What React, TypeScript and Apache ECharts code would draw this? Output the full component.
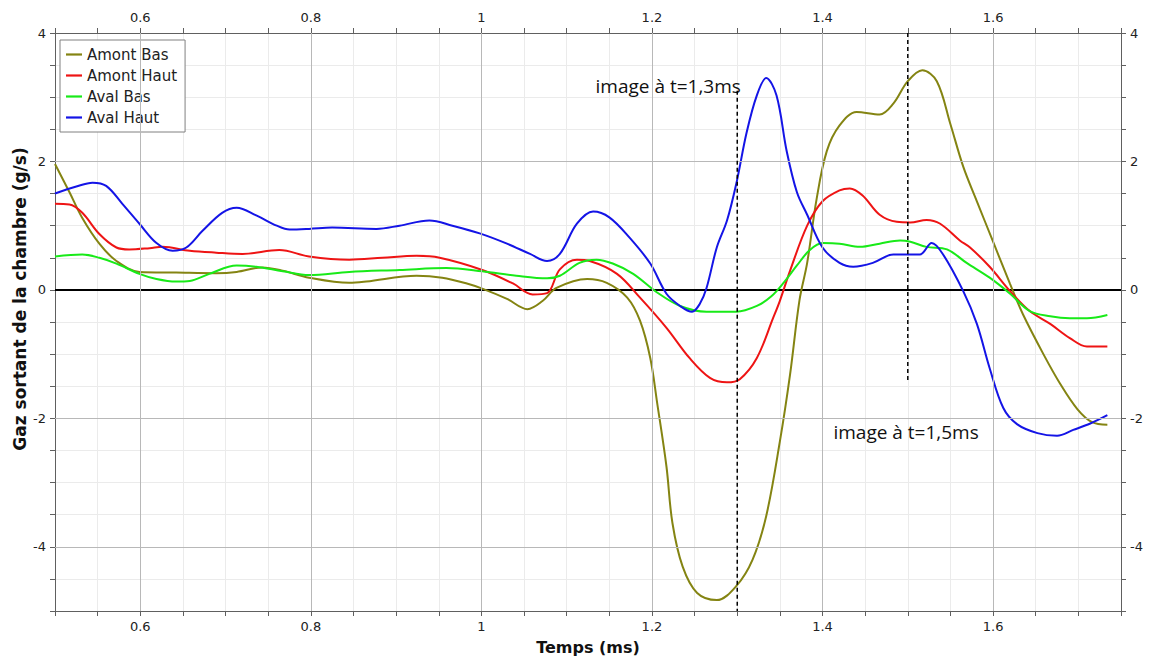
import { useEffect, useRef } from "react";
import * as echarts from "echarts";

const X_MIN = 0.5;
const X_MAX = 1.75;
const Y_MIN = -5;
const Y_MAX = 4;

const xLabelTicks = [0.6, 0.8, 1, 1.2, 1.4, 1.6];
const yLabelTicks = [-4, -2, 0, 2, 4];
const xMajorGrid = [0.6, 0.8, 1, 1.2, 1.4, 1.6];
const yMajorGrid = [-4, -2, 2];

const seriesNames = ["Amont Bas", "Amont Haut", "Aval Bas", "Aval Haut"];
const seriesColors = ["#848412", "#ee1414", "#18ea18", "#1414e6"];

const amontBas = [
  [0.5, 1.96], [0.517, 1.52], [0.532, 1.12], [0.552, 0.72], [0.572, 0.45], [0.599, 0.28],
  [0.642, 0.27], [0.689, 0.26], [0.713, 0.28], [0.743, 0.35], [0.767, 0.3], [0.798, 0.19],
  [0.845, 0.11], [0.865, 0.13], [0.924, 0.22], [0.954, 0.19], [0.983, 0.1], [1.001, 0.02],
  [1.03, -0.14], [1.054, -0.3], [1.072, -0.17], [1.088, 0.03], [1.124, 0.17], [1.147, 0.11],
  [1.171, -0.12], [1.186, -0.48], [1.198, -1.06], [1.206, -1.75], [1.217, -2.75], [1.224, -3.63],
  [1.236, -4.31], [1.253, -4.72], [1.276, -4.83], [1.299, -4.61], [1.318, -4.2], [1.334, -3.52],
  [1.35, -2.36], [1.362, -1.31], [1.373, -0.16], [1.382, 0.42], [1.393, 1.41], [1.405, 2.16],
  [1.42, 2.56], [1.44, 2.77], [1.467, 2.73], [1.483, 2.9], [1.5, 3.25], [1.517, 3.42],
  [1.534, 3.25], [1.55, 2.58], [1.565, 1.92], [1.581, 1.38], [1.6, 0.75], [1.62, 0.09],
  [1.635, -0.38], [1.659, -1.0], [1.679, -1.47], [1.699, -1.86], [1.716, -2.06], [1.734, -2.1],
];

const amontHaut = [
  [0.5, 1.34], [0.517, 1.33], [0.532, 1.2], [0.552, 0.87], [0.572, 0.66], [0.587, 0.63],
  [0.611, 0.65], [0.626, 0.67], [0.658, 0.61], [0.689, 0.58], [0.72, 0.56], [0.763, 0.62],
  [0.798, 0.52], [0.845, 0.47], [0.884, 0.5], [0.924, 0.53], [0.951, 0.5], [1.001, 0.31],
  [1.037, 0.1], [1.06, -0.07], [1.077, -0.05], [1.092, 0.32], [1.112, 0.47], [1.127, 0.45],
  [1.159, 0.25], [1.186, -0.12], [1.217, -0.59], [1.244, -1.06], [1.268, -1.37], [1.288, -1.44],
  [1.303, -1.39], [1.323, -1.06], [1.342, -0.44], [1.35, -0.17], [1.362, 0.3], [1.382, 1.0],
  [1.4, 1.38], [1.42, 1.55], [1.432, 1.58], [1.447, 1.47], [1.467, 1.17], [1.487, 1.06],
  [1.503, 1.05], [1.522, 1.09], [1.538, 1.03], [1.561, 0.77], [1.573, 0.66], [1.596, 0.36],
  [1.62, -0.02], [1.643, -0.33], [1.667, -0.53], [1.69, -0.75], [1.71, -0.88], [1.734, -0.88],
];

const avalBas = [
  [0.5, 0.52], [0.532, 0.55], [0.552, 0.5], [0.572, 0.41], [0.599, 0.25], [0.619, 0.17],
  [0.642, 0.13], [0.658, 0.14], [0.681, 0.25], [0.713, 0.38], [0.736, 0.36], [0.767, 0.29],
  [0.798, 0.23], [0.845, 0.28], [0.904, 0.31], [0.959, 0.34], [1.001, 0.29], [1.041, 0.22],
  [1.077, 0.18], [1.092, 0.22], [1.115, 0.42], [1.135, 0.47], [1.154, 0.41], [1.178, 0.25],
  [1.206, -0.04], [1.233, -0.25], [1.264, -0.34], [1.299, -0.34], [1.323, -0.25], [1.34, -0.1],
  [1.355, 0.12], [1.37, 0.38], [1.385, 0.62], [1.4, 0.73], [1.42, 0.72], [1.444, 0.67],
  [1.467, 0.72], [1.491, 0.77], [1.503, 0.75], [1.522, 0.67], [1.546, 0.63], [1.569, 0.42],
  [1.596, 0.19], [1.62, -0.06], [1.643, -0.33], [1.667, -0.41], [1.69, -0.44], [1.71, -0.44],
  [1.734, -0.39],
];

const avalHaut = [
  [0.5, 1.5], [0.525, 1.61], [0.544, 1.67], [0.56, 1.62], [0.579, 1.34], [0.599, 1.03],
  [0.619, 0.73], [0.638, 0.61], [0.654, 0.66], [0.673, 0.92], [0.696, 1.2], [0.713, 1.28],
  [0.736, 1.16], [0.76, 1.0], [0.775, 0.94], [0.798, 0.95], [0.825, 0.97], [0.877, 0.95],
  [0.904, 1.0], [0.939, 1.08], [0.966, 1.0], [0.998, 0.88], [1.03, 0.72], [1.057, 0.56],
  [1.077, 0.45], [1.092, 0.56], [1.112, 1.03], [1.131, 1.22], [1.15, 1.13], [1.174, 0.81],
  [1.198, 0.41], [1.217, -0.06], [1.233, -0.25], [1.247, -0.34], [1.256, -0.22], [1.264, 0.03],
  [1.276, 0.66], [1.288, 1.08], [1.299, 1.66], [1.311, 2.45], [1.323, 3.03], [1.334, 3.3],
  [1.346, 3.03], [1.358, 2.16], [1.37, 1.52], [1.382, 1.17], [1.4, 0.66], [1.42, 0.42],
  [1.436, 0.36], [1.459, 0.42], [1.483, 0.55], [1.514, 0.55], [1.528, 0.73], [1.541, 0.56],
  [1.565, -0.02], [1.581, -0.53], [1.596, -1.22], [1.612, -1.84], [1.628, -2.09], [1.652, -2.23],
  [1.675, -2.27], [1.694, -2.18], [1.714, -2.08], [1.734, -1.95],
];

const seriesData = [amontBas, amontHaut, avalBas, avalHaut];

const marker13 = [[1.3, 3.1], [1.3, -5]];
const marker15 = [[1.5, 4], [1.5, -1.42]];
const annotation13 = { text: "image à t=1,3ms", coord: [1.219, 3.17] };
const annotation15 = { text: "image à t=1,5ms", coord: [1.498, -2.22] };

const xTitle = "Temps (ms)";
const yTitle = "Gaz sortant de la chambre (g/s)";

const AXIS_COLOR = "#606060";
const LABEL_COLOR = "#222";
const TICK_FONT = "DejaVu Sans";

function near(list: number[], v: number) {
  return list.some((t) => Math.abs(t - v) < 1e-6);
}
function xFmt(v: number) {
  const r = Math.round(v * 1000) / 1000;
  return near(xLabelTicks, r) ? String(r) : "";
}
function yFmt(v: number) {
  const r = Math.round(v * 1000) / 1000;
  return near(yLabelTicks, r) ? String(r) : "";
}

function xAxisCfg(position: "top" | "bottom", withGrid: boolean, withName: boolean) {
  return {
    type: "value",
    position,
    min: X_MIN,
    max: X_MAX,
    interval: 0.05,
    name: withName ? xTitle : "",
    nameLocation: "middle",
    nameGap: 28,
    nameTextStyle: { fontFamily: TICK_FONT, fontWeight: "bold", fontSize: 16, color: "#111" },
    axisLine: { show: true, onZero: false, lineStyle: { color: AXIS_COLOR, width: 1 } },
    axisTick: { show: true, length: 5, lineStyle: { color: AXIS_COLOR } },
    axisLabel: {
      show: true,
      formatter: xFmt,
      margin: 9,
      fontFamily: TICK_FONT,
      fontSize: 13,
      color: LABEL_COLOR,
      showMinLabel: true,
      showMaxLabel: true,
    },
    splitLine: { show: withGrid, lineStyle: { color: "#ebebeb", width: 1 } },
  };
}

function yAxisCfg(position: "left" | "right", withGrid: boolean) {
  return {
    type: "value",
    position,
    min: Y_MIN,
    max: Y_MAX,
    interval: 0.5,
    axisLine: { show: true, onZero: false, lineStyle: { color: AXIS_COLOR, width: 1 } },
    axisTick: { show: true, length: 5, lineStyle: { color: AXIS_COLOR } },
    axisLabel: {
      show: true,
      formatter: yFmt,
      margin: 9,
      fontFamily: TICK_FONT,
      fontSize: 13,
      color: LABEL_COLOR,
    },
    splitLine: { show: withGrid, lineStyle: { color: "#ebebeb", width: 1 } },
  };
}

export default function App() {
  const ref = useRef<HTMLDivElement>(null);

  useEffect(() => {
    document.body.style.margin = "0";
    if (!ref.current) return;
    const chart = echarts.init(ref.current, undefined, { renderer: "svg" });

    const curves = seriesNames.map((name, i) => ({
      name,
      type: "line",
      data: seriesData[i],
      xAxisIndex: 0,
      yAxisIndex: 0,
      showSymbol: false,
      symbol: "none",
      smooth: 0.35,
      z: 3,
      lineStyle: { color: seriesColors[i], width: 2 },
      itemStyle: { color: seriesColors[i] },
    }));

    const annotLabel = {
      show: true,
      position: "inside",
      fontFamily: "Open Sans",
      fontSize: 19,
      color: "#111",
    };

    const option = {
      animation: false,
      backgroundColor: "#ffffff",
      grid: { left: 55, right: 30, top: 33, bottom: 53, containLabel: false },
      legend: {
        data: seriesNames,
        orient: "vertical",
        left: 60,
        top: 40,
        padding: [7, 8, 7, 6],
        itemGap: 6,
        itemWidth: 16,
        itemHeight: 14,
        icon: "path://M0,0H16V2.2H0Z",
        backgroundColor: "#ffffff",
        borderColor: "#808080",
        borderWidth: 1,
        borderRadius: 0,
        textStyle: { fontFamily: "DejaVu Sans", fontSize: 15, color: "#222" },
      },
      graphic: [
        {
          type: "text",
          x: 20,
          y: 299,
          rotation: Math.PI / 2,
          style: {
            text: yTitle,
            fontFamily: TICK_FONT,
            fontWeight: "bold",
            fontSize: 17,
            fill: "#111",
            align: "center",
            verticalAlign: "middle",
          },
        },
      ],
      xAxis: [xAxisCfg("bottom", true, true), xAxisCfg("top", false, false)],
      yAxis: [yAxisCfg("left", true), yAxisCfg("right", false)],
      series: [
        {
          name: "zero",
          type: "line",
          data: [[X_MIN, 0], [X_MAX, 0]],
          xAxisIndex: 0,
          yAxisIndex: 0,
          symbol: "none",
          silent: true,
          z: 2,
          lineStyle: { color: "#000", width: 2 },
          markLine: {
            silent: true,
            symbol: ["none", "none"],
            label: { show: false },
            lineStyle: { color: "#b8b8b8", width: 1, type: "solid" },
            data: [
              ...xMajorGrid.map((v) => ({ xAxis: v })),
              ...yMajorGrid.map((v) => ({ yAxis: v })),
            ],
          },
        },
        ...curves,
        {
          name: "t13",
          type: "line",
          data: marker13,
          symbol: "none",
          silent: true,
          z: 5,
          lineStyle: { color: "#000", width: 1.5, type: [4, 3] },
          markPoint: {
            symbol: "rect",
            symbolSize: 1,
            itemStyle: { color: "transparent" },
            data: [{ coord: annotation13.coord, label: { ...annotLabel, formatter: annotation13.text } }],
          },
        },
        {
          name: "t15",
          type: "line",
          data: marker15,
          symbol: "none",
          silent: true,
          z: 5,
          lineStyle: { color: "#000", width: 1.5, type: [4, 3] },
          markPoint: {
            symbol: "rect",
            symbolSize: 1,
            itemStyle: { color: "transparent" },
            data: [{ coord: annotation15.coord, label: { ...annotLabel, formatter: annotation15.text } }],
          },
        },
      ],
    };

    chart.setOption(option as any);
    return () => chart.dispose();
  }, []);

  return <div ref={ref} style={{ width: 1151, height: 664 }} />;
}
